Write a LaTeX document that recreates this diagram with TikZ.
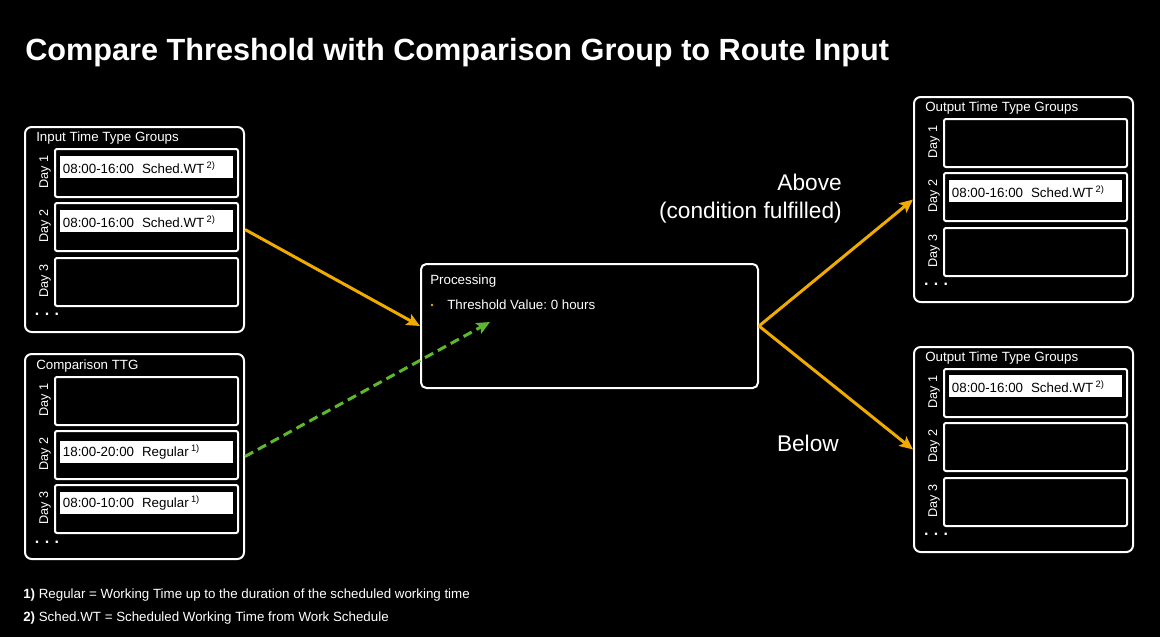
\documentclass[tikz,border=0pt]{standalone}
\usepackage{fontspec}
\setmainfont{Liberation Sans}
\usetikzlibrary{arrows.meta}
\definecolor{routeOrange}{HTML}{F0AB00}
\definecolor{routeGreen}{HTML}{5DB82E}
\frenchspacing

\begin{document}
\begin{tikzpicture}[x=0.75pt, y=-0.75pt, >={Stealth[length=10pt,width=9pt,inset=2pt]}]
        \tikzstyle{group}=[draw=white, line width=1.5pt, rounded corners=5pt, anchor=north west, minimum width=219*0.75pt, minimum height=205*0.75pt, inner sep=0pt]
        \tikzstyle{day}=[draw=white, line width=1.5pt, rounded corners=1.5pt, anchor=north west, minimum width=183*0.75pt, minimum height=48*0.75pt, inner sep=0pt]
        \tikzstyle{daylabel}=[rotate=90, text=white, font=\fontsize{9.5}{10}\selectfont, inner sep=0pt]
        \tikzstyle{entry}=[fill=white, anchor=north west, minimum height=22*0.75pt, text width=125.75pt, inner xsep=2pt, inner ysep=0pt, align=left, font=\fontsize{10}{12}\selectfont]
        \tikzstyle{caption}=[anchor=west, text=white, font=\fontsize{10}{12}\selectfont, inner sep=0pt]
        \tikzstyle{dots}=[text=white, font=\bfseries\fontsize{12}{12}\selectfont, inner sep=0pt]
        \tikzstyle{flow}=[->, draw=routeOrange, line width=2.25pt]

        \fill[black] (0,0) rectangle (1160,637);
        \useasboundingbox (0,0) rectangle (1160,637);

        \node[anchor=base west, text=white, font=\bfseries\fontsize{23}{28}\selectfont, inner sep=0pt](title) at (25,60){Compare Threshold with Comparison Group to Route Input};

        % input groups
        \node[group](in) at (24,126){};
        \node[caption](in-t) at (36,138){Input Time Type Groups};
        \node[day](in1) at (54,148){};
        \node[day](in2) at (54,202){};
        \node[day](in3) at (54,257){};
        \node[daylabel](in1-l) at (45,172){Day 1};
        \node[daylabel](in2-l) at (45,226){Day 2};
        \node[daylabel](in3-l) at (45,281){Day 3};
        \node[entry](in1-e) at (60,156){08:00-16:00\hspace{0.6em}Sched.WT\,\textsuperscript{2)}};
        \node[entry](in2-e) at (60,210){08:00-16:00\hspace{0.6em}Sched.WT\,\textsuperscript{2)}};
        \node[dots](in-d) at (47,314){.\,\,.\,\,.};

        % comparison group
        \node[group](cmp) at (24,353){};
        \node[caption](cmp-t) at (36,366){Comparison TTG};
        \node[day](cmp1) at (54,376){};
        \node[day](cmp2) at (54,430){};
        \node[day](cmp3) at (54,484){};
        \node[daylabel](cmp1-l) at (45,400){Day 1};
        \node[daylabel](cmp2-l) at (45,454){Day 2};
        \node[daylabel](cmp3-l) at (45,508){Day 3};
        \node[entry](cmp2-e) at (60,441){18:00-20:00\hspace{0.6em}Regular\,\textsuperscript{1)}};
        \node[entry](cmp3-e) at (60,492){08:00-10:00\hspace{0.6em}Regular\,\textsuperscript{1)}};
        \node[dots](cmp-d) at (47,542){.\,\,.\,\,.};

        % processing
        \node[draw=white, line width=1.5pt, rounded corners=4pt, anchor=north west, minimum width=337*0.75pt, minimum height=124*0.75pt, inner sep=0pt](proc) at (420,263){};
        \node[caption](proc-t) at (430,281){Processing};
        \node[circle, fill=routeOrange, inner sep=0pt, minimum size=2pt](bul) at (432,305){};
        \node[caption](thr-t) at (447,305){Threshold Value: 0 hours};
        \coordinate (thr) at (490,322);

        % output above
        \node[group](above) at (913,96){};
        \node[caption](above-t) at (925,108){Output Time Type Groups};
        \node[day](above1) at (943,118){};
        \node[day](above2) at (943,172){};
        \node[day](above3) at (943,227){};
        \node[daylabel](above1-l) at (934,142){Day 1};
        \node[daylabel](above2-l) at (934,196){Day 2};
        \node[daylabel](above3-l) at (934,251){Day 3};
        \node[entry](above2-e) at (949,180){08:00-16:00\hspace{0.6em}Sched.WT\,\textsuperscript{2)}};
        \node[dots](above-d) at (936,284){.\,\,.\,\,.};

        % output below
        \node[group](below) at (913,346){};
        \node[caption](below-t) at (925,358){Output Time Type Groups};
        \node[day](below1) at (943,368){};
        \node[day](below2) at (943,422){};
        \node[day](below3) at (943,477){};
        \node[daylabel](below1-l) at (934,392){Day 1};
        \node[daylabel](below2-l) at (934,446){Day 2};
        \node[daylabel](below3-l) at (934,501){Day 3};
        \node[entry](below1-e) at (949,375){08:00-16:00\hspace{0.6em}Sched.WT\,\textsuperscript{2)}};
        \node[dots](below-d) at (936,534){.\,\,.\,\,.};

        \node[anchor=east, align=right, text=white, font=\fontsize{17}{21}\selectfont, inner sep=0pt](lab-above) at (842,199){Above\\(condition fulfilled)};
        \node[anchor=east, text=white, font=\fontsize{17}{21}\selectfont, inner sep=0pt](lab-below) at (839,443){Below};

        \draw[flow] (in.east) -- (proc.west);
        \draw[->, draw=routeGreen, line width=2.25pt, dash pattern=on 7pt off 4pt] (cmp.east) -- (thr);
        \draw[flow] (proc.east) -- (above.west);
        \draw[flow] (proc.east) -- (below.west);

        \node[caption](fn1) at (23,595){\textbf{1)} Regular = Working Time up to the duration of the scheduled working time};
        \node[caption](fn2) at (23,618){\textbf{2)} Sched.WT = Scheduled Working Time from Work Schedule};

        \end{tikzpicture}
\end{document}
